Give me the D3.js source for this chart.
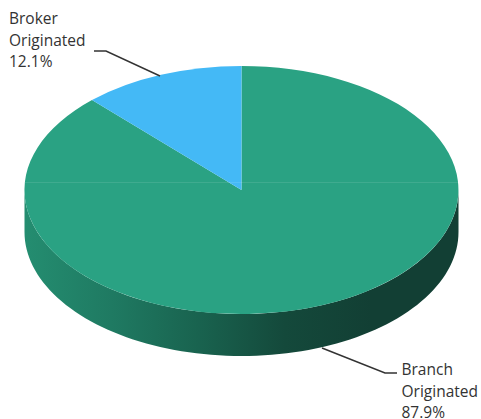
<!DOCTYPE html>
<html>
<head>
<meta charset="utf-8">
<style>
  html, body { margin: 0; padding: 0; background: #fff; }
  svg { display: block; }
  text { font-family: "Open Sans", sans-serif; font-size: 15.5px; fill: #333; }
</style>
<script src="https://cdn.jsdelivr.net/npm/d3@7"></script>
</head>
<body>
<svg id="chart" width="481" height="419"></svg>
<script>
const categories = ["Branch Originated", "Broker Originated"];
const shares = [87.9, 12.1];
const sliceColors = ["#2aa283", "#44b9f6"];
const wallStops = ["#248d70", "#1f7a62", "#19634f", "#14493b", "#123f34", "#123f34"];

const width = 481, height = 419;
const cx = 241.5, cy = 190, rx = 217, ry = 124, depth = 42;

const svg = d3.select("#chart");
const defs = svg.append("defs");

// Horizontal shading of the pie's outer wall, light on the left and dark on the right
const wallGradient = defs.append("linearGradient")
  .attr("id", "wall")
  .attr("gradientUnits", "userSpaceOnUse")
  .attr("x1", cx - rx).attr("x2", cx + rx)
  .attr("y1", 0).attr("y2", 0);
wallGradient.selectAll("stop")
  .data(wallStops)
  .join("stop")
  .attr("offset", (d, i) => i / (wallStops.length - 1))
  .attr("stop-color", d => d);

// Clockwise from twelve o'clock, Branch first, so Broker ends at the top
const pie = d3.pie().sort(null).value(d => d);
const arcs = pie(shares);

const xScale = d3.scaleLinear().domain([-1, 1]).range([cx - rx, cx + rx]);
const yScale = d3.scaleLinear().domain([-1, 1]).range([cy - ry, cy + ry]);

// Outer wall: lower half of the ellipse swept down by the depth
const wallAngles = d3.range(0, 181, 2).map(d => d * Math.PI / 180);
const wallPoints = [
  ...wallAngles.map(a => [xScale(Math.cos(a)), yScale(Math.sin(a))]),
  ...wallAngles.slice().reverse().map(a => [xScale(Math.cos(a)), yScale(Math.sin(a)) + depth])
];
svg.append("path")
  .attr("d", d3.line()(wallPoints) + "Z")
  .attr("fill", "url(#wall)");

// Top face: unit pie arcs squashed into the ellipse
const arcGen = d3.arc().innerRadius(0).outerRadius(1);
svg.append("g")
  .attr("transform", `translate(${cx},${cy}) scale(${rx},${ry})`)
  .selectAll("path")
  .data(arcs)
  .join("path")
  .attr("d", arcGen)
  .attr("fill", (d, i) => sliceColors[i]);

// Faint seam running across the face
const seamY = 182.5;
const seamHalf = rx * Math.sqrt(1 - Math.pow((seamY - cy) / ry, 2));
svg.append("line")
  .attr("x1", cx - seamHalf).attr("x2", cx + seamHalf)
  .attr("y1", seamY).attr("y2", seamY)
  .attr("stroke", "#fff").attr("stroke-opacity", 0.1);

// Leader lines
const leaders = [
  [[322, 348], [385, 373], [397, 373]],
  [[160, 76], [106, 51], [94, 51]]
];
svg.append("g")
  .selectAll("path")
  .data(leaders)
  .join("path")
  .attr("d", d3.line())
  .attr("fill", "none")
  .attr("stroke", "#333")
  .attr("stroke-width", 1.5);

// Three-line labels: two words of the category, then the share
const labelAnchors = [[401.5, 375], [9, 24]];
const lineHeight = 21.5;
categories.forEach((name, i) => {
  const lines = [...name.split(" "), shares[i].toFixed(1) + "%"];
  svg.append("text")
    .attr("transform", `translate(${labelAnchors[i][0]},${labelAnchors[i][1]})`)
    .selectAll("tspan")
    .data(lines)
    .join("tspan")
    .attr("x", 0)
    .attr("y", (d, j) => j * lineHeight)
    .text(d => d);
});
</script>
</body>
</html>
